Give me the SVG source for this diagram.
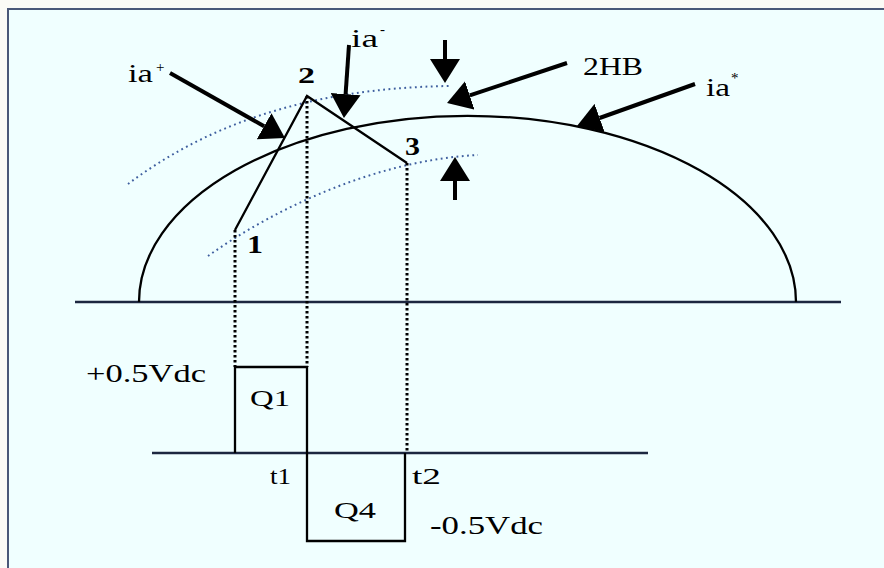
<svg xmlns="http://www.w3.org/2000/svg" width="884" height="568" viewBox="0 0 884 568">
<style>
text{font-family:"Liberation Serif","Times New Roman",serif;fill:#000}
.lbl{font-size:26px}
.sm{font-size:24px}
.b{font-weight:bold}
.sup{font-size:15px}
.dotb{fill:none;stroke:#3f5f9f;stroke-width:2;stroke-dasharray:1.8 3.5}
.dotk{fill:none;stroke:#000;stroke-width:3;stroke-dasharray:2.5 2.5}
.sol{fill:none;stroke:#000;stroke-width:2.3}
.axis{fill:none;stroke:#1c2740;stroke-width:2.5}
.arr{fill:none;stroke:#000;stroke-width:4;marker-end:url(#ah)}
</style>
<defs>
<marker id="ah" markerUnits="userSpaceOnUse" viewBox="0 0 24 30" markerWidth="24" markerHeight="30" refX="0" refY="15" orient="auto">
<path d="M0,0 L24,15 L0,30 Z" fill="#000"/>
</marker>
</defs>
<rect x="0" y="0" width="884" height="568" fill="#fbfbf6"/>
<rect id="frame" x="8" y="9" width="900" height="600" fill="#f0ffff" stroke="#4a5878" stroke-width="2"/>
<g id="curves">
<path class="axis" d="M75,302 H841"/>
<path class="sol" stroke-width="2.5" d="M139,302 A328,186 0 0 1 796,302"/>
<path class="dotb" d="M128,184 C200,130 300,88 450,86"/>
<path class="dotb" d="M208,256 C280,205 380,160 478,155"/>
<path class="sol" d="M235,230 L307,96 L407,163"/>
<path class="dotk" d="M235,230 V367"/>
<path class="dotk" d="M307,96 V367"/>
<path class="dotk" d="M407,163 V453"/>
<path class="axis" d="M152,453 H648"/>
<path class="sol" stroke-width="3" d="M235,453 V367 H307 V541 H405 V453"/>
</g>
<g id="connectors">
<path class="arr" d="M170,73 L264.1,126.2"/>
<path class="arr" d="M349,45 L345.6,94.1"/>
<path class="arr" d="M445,40 L445,59"/>
<path class="arr" d="M455,200 L455,181"/>
<path class="arr" d="M567,63 L469.8,95.4"/>
<path class="arr" d="M695,84 L599.6,118"/>
</g>
<g id="labels">
<g id="ia-plus"><text class="lbl" x="128" y="82" textLength="25" lengthAdjust="spacingAndGlyphs">ia</text><text class="sup" x="156" y="72">+</text></g>
<g id="ia-minus"><text class="lbl" x="351" y="47" textLength="27" lengthAdjust="spacingAndGlyphs">ia</text><text class="sup" x="380" y="34">-</text></g>
<g id="ia-star"><text class="lbl" x="706" y="96" textLength="24" lengthAdjust="spacingAndGlyphs">ia</text><text class="sup" x="731" y="83">*</text></g>
<g id="hb"><text class="lbl" x="583" y="75" textLength="60" lengthAdjust="spacingAndGlyphs">2HB</text></g>
<g id="p1"><text class="lbl b" x="247" y="253" textLength="16" lengthAdjust="spacingAndGlyphs">1</text></g>
<g id="p2"><text class="sm b" x="298" y="83" textLength="17" lengthAdjust="spacingAndGlyphs">2</text></g>
<g id="p3"><text class="lbl b" x="405" y="155" textLength="15" lengthAdjust="spacingAndGlyphs">3</text></g>
<g id="vpos"><text class="lbl" x="86" y="382" textLength="120" lengthAdjust="spacingAndGlyphs">+0.5Vdc</text></g>
<g id="vneg"><text class="lbl" x="430" y="534" textLength="113" lengthAdjust="spacingAndGlyphs">-0.5Vdc</text></g>
<g id="q1"><text class="sm" x="250" y="406" textLength="40" lengthAdjust="spacingAndGlyphs">Q1</text></g>
<g id="q4"><text class="sm" x="334" y="518" textLength="42" lengthAdjust="spacingAndGlyphs">Q4</text></g>
<g id="t1"><text class="sm" x="270" y="484" textLength="21" lengthAdjust="spacingAndGlyphs">t1</text></g>
<g id="t2"><text class="sm" x="412" y="484" textLength="29" lengthAdjust="spacingAndGlyphs">t2</text></g>
</g>
</svg>
